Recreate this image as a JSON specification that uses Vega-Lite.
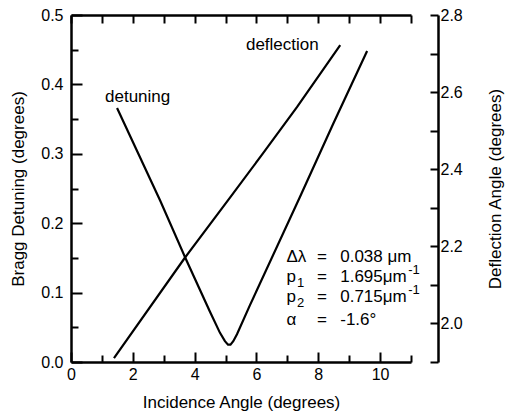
{
  "$schema": "https://vega.github.io/schema/vega-lite/v6.json",
  "width": 340,
  "height": 347,
  "autosize": "none",
  "padding": {"left": 71, "top": 15, "right": 103, "bottom": 54},
  "background": "white",
  "config": {
    "view": {"stroke": null},
    "font": "Liberation Sans",
    "axis": {
      "grid": false,
      "labelFont": "Liberation Sans",
      "labelFontSize": 16,
      "labelColor": "black",
      "titleFont": "Liberation Sans",
      "titleFontSize": 17,
      "titleFontWeight": "normal",
      "titleColor": "black",
      "domainColor": "black",
      "domainWidth": 2.5,
      "tickColor": "black",
      "tickWidth": 2,
      "labelFlush": false,
      "labelOverlap": false
    },
    "text": {"font": "Liberation Sans", "fontSize": 17, "color": "black"}
  },
  "datasets": {
    "detuning": [
      {"angle": 1.49, "detuning": 0.366},
      {"angle": 2.88, "detuning": 0.233},
      {"angle": 3.69, "detuning": 0.151},
      {"angle": 4.50, "detuning": 0.072},
      {"angle": 4.82, "detuning": 0.042},
      {"angle": 4.98, "detuning": 0.030},
      {"angle": 5.08, "detuning": 0.025},
      {"angle": 5.16, "detuning": 0.025},
      {"angle": 5.25, "detuning": 0.030},
      {"angle": 5.37, "detuning": 0.040},
      {"angle": 5.79, "detuning": 0.082},
      {"angle": 7.41, "detuning": 0.238},
      {"angle": 8.48, "detuning": 0.343},
      {"angle": 9.58, "detuning": 0.448}
    ],
    "deflection": [
      {"angle": 1.39, "deflection": 1.910},
      {"angle": 3.69, "deflection": 2.171},
      {"angle": 5.15, "deflection": 2.327},
      {"angle": 6.21, "deflection": 2.441},
      {"angle": 7.31, "deflection": 2.561},
      {"angle": 8.71, "deflection": 2.722}
    ],
    "curveLabels": [
      {"x": 1.10, "y": 0.382, "text": "detuning"},
      {"x": 5.66, "y": 0.457, "text": "deflection"}
    ],
    "params": [
      {"x": 6.97, "y": 0.1513, "text": "Δλ"},
      {"x": 7.96, "y": 0.1513, "text": "="},
      {"x": 8.71, "y": 0.1513, "text": "0.038 μm"},
      {"x": 6.97, "y": 0.1225, "text": "p"},
      {"x": 7.96, "y": 0.1225, "text": "="},
      {"x": 8.71, "y": 0.1225, "text": "1.695μm"},
      {"x": 6.97, "y": 0.0937, "text": "p"},
      {"x": 7.96, "y": 0.0937, "text": "="},
      {"x": 8.71, "y": 0.0937, "text": "0.715μm"},
      {"x": 6.97, "y": 0.0605, "text": "α"},
      {"x": 7.96, "y": 0.0605, "text": "="},
      {"x": 8.71, "y": 0.0605, "text": "-1.6°"}
    ],
    "subscripts": [
      {"x": 7.31, "y": 0.1225, "text": "1"},
      {"x": 7.31, "y": 0.0937, "text": "2"}
    ],
    "superscripts": [
      {"x": 10.91, "y": 0.1225, "text": "-1"},
      {"x": 10.91, "y": 0.0937, "text": "-1"}
    ]
  },
  "layer": [
    {
      "data": {"name": "detuning"},
      "mark": {"type": "line", "color": "black", "strokeWidth": 2.2},
      "encoding": {
        "x": {
          "field": "angle", "type": "quantitative",
          "scale": {"domain": [0, 11], "nice": false},
          "axis": {
            "orient": "bottom",
            "values": [0, 1, 2, 3, 4, 5, 6, 7, 8, 9, 10, 11],
            "labelExpr": "datum.value % 2 === 0 ? datum.label : ''",
            "tickSize": {"condition": {"test": "datum.value % 2 === 0", "value": -10}, "value": -7},
            "labelPadding": 14,
            "title": "Incidence Angle (degrees)",
            "titlePadding": 9
          }
        },
        "y": {
          "field": "detuning", "type": "quantitative",
          "scale": {"domain": [0, 0.5], "nice": false},
          "axis": {
            "orient": "left",
            "values": [0, 0.05, 0.1, 0.15, 0.2, 0.25, 0.3, 0.35, 0.4, 0.45, 0.5],
            "format": ".1f",
            "labelExpr": "round(datum.value * 100) % 10 === 0 ? datum.label : ''",
            "tickSize": {"condition": {"test": "round(datum.value * 100) % 10 === 0", "value": -11}, "value": -7},
            "labelPadding": 19,
            "title": "Bragg Detuning (degrees)",
            "titlePadding": 13
          }
        }
      }
    },
    {
      "data": {"name": "deflection"},
      "mark": {"type": "line", "color": "black", "strokeWidth": 2.2},
      "encoding": {
        "x": {
          "field": "angle", "type": "quantitative",
          "scale": {"domain": [0, 11], "nice": false},
          "axis": {
            "orient": "top",
            "values": [0, 1, 2, 3, 4, 5, 6, 7, 8, 9, 10, 11],
            "labels": false,
            "tickSize": -8,
            "title": null
          }
        },
        "y": {
          "field": "deflection", "type": "quantitative",
          "scale": {"domain": [1.9, 2.8], "nice": false},
          "axis": {
            "orient": "right",
            "offset": 27,
            "values": [1.9, 2.0, 2.1, 2.2, 2.3, 2.4, 2.5, 2.6, 2.7, 2.8],
            "format": ".1f",
            "labelExpr": "round(datum.value * 10) % 2 === 0 ? datum.label : ''",
            "tickSize": -8,
            "labelPadding": 10,
            "title": "Deflection Angle (degrees)",
            "titleAngle": 270,
            "titleBaseline": "top",
            "titlePadding": 25
          }
        }
      }
    },
    {
      "data": {"name": "curveLabels"},
      "mark": {"type": "text", "align": "left", "baseline": "middle", "fontSize": 17},
      "encoding": {
        "x": {"field": "x", "type": "quantitative", "scale": {"domain": [0, 11], "nice": false}, "axis": null},
        "y": {"field": "y", "type": "quantitative", "scale": {"domain": [0, 0.5], "nice": false}, "axis": null},
        "text": {"field": "text"}
      }
    },
    {
      "data": {"name": "params"},
      "mark": {"type": "text", "align": "left", "baseline": "middle", "fontSize": 17},
      "encoding": {
        "x": {"field": "x", "type": "quantitative", "scale": {"domain": [0, 11], "nice": false}, "axis": null},
        "y": {"field": "y", "type": "quantitative", "scale": {"domain": [0, 0.5], "nice": false}, "axis": null},
        "text": {"field": "text"}
      }
    },
    {
      "data": {"name": "subscripts"},
      "mark": {"type": "text", "align": "left", "baseline": "middle", "fontSize": 13, "dy": 6},
      "encoding": {
        "x": {"field": "x", "type": "quantitative", "scale": {"domain": [0, 11], "nice": false}, "axis": null},
        "y": {"field": "y", "type": "quantitative", "scale": {"domain": [0, 0.5], "nice": false}, "axis": null},
        "text": {"field": "text"}
      }
    },
    {
      "data": {"name": "superscripts"},
      "mark": {"type": "text", "align": "left", "baseline": "middle", "fontSize": 13, "dy": -7},
      "encoding": {
        "x": {"field": "x", "type": "quantitative", "scale": {"domain": [0, 11], "nice": false}, "axis": null},
        "y": {"field": "y", "type": "quantitative", "scale": {"domain": [0, 0.5], "nice": false}, "axis": null},
        "text": {"field": "text"}
      }
    }
  ],
  "resolve": {
    "scale": {"y": "independent"},
    "axis": {"x": "independent", "y": "independent"}
  }
}
